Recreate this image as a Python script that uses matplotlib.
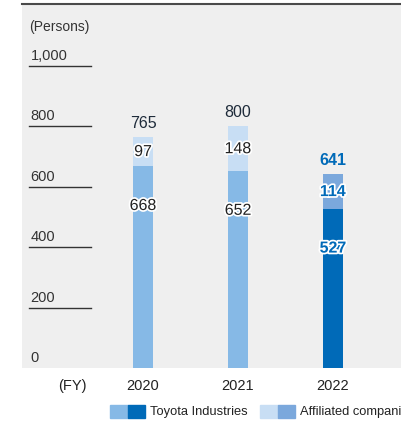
import matplotlib
matplotlib.use("Agg")
import matplotlib.pyplot as plt
import matplotlib.patheffects as pe
from matplotlib.patches import Rectangle

# --- data --------------------------------------------------------------
years = ["2020", "2021", "2022"]
toyota = [668, 652, 527]
affiliated = [97, 148, 114]
totals = [765, 800, 641]
yticks = [0, 200, 400, 600, 800, 1000]
ytick_labels = ["0", "200", "400", "600", "800", "1,000"]

toyota_colors = ["#86b9e6", "#86b9e6", "#006ab8"]
affil_colors = ["#c8def4", "#c8def4", "#7ba8dc"]
label_colors = ["#222222", "#222222", "#006ab8"]

plt.rcParams["font.family"] = ["Liberation Sans", "DejaVu Sans"]

fig = plt.figure(figsize=(4.01, 4.25), dpi=100)
ax = fig.add_axes([22 / 401, 57 / 425, 379 / 401, 364 / 425])
ax.set_facecolor("#efefef")
ax.set_xlim(-1.274, 2.716)
ax.set_ylim(0, 1205)

x = range(len(years))
w = 0.21
ax.bar(x, toyota, width=w, color=toyota_colors, zorder=2)
ax.bar(x, affiliated, width=w, bottom=toyota, color=affil_colors, zorder=2)

outline = [pe.withStroke(linewidth=2.5, foreground="white")]
for i in x:
    bold = "bold" if i == 2 else "normal"
    ax.text(i, toyota[i] - 130, str(toyota[i]), ha="center", va="center",
            fontsize=11.5, color=label_colors[i], fontweight=bold,
            path_effects=outline, zorder=3)
    ax.text(i, toyota[i] + affiliated[i] / 2, str(affiliated[i]), ha="center",
            va="center", fontsize=11.5, color=label_colors[i], fontweight=bold,
            path_effects=outline, zorder=3)
    ax.text(i, totals[i] + 45, str(totals[i]), ha="center", va="center",
            fontsize=11.5, color="#1e2b3a" if i < 2 else "#006ab8",
            fontweight=bold, zorder=3)

# y "ticks": labels sitting on short underlines
for v, lab in zip(yticks, ytick_labels):
    if v > 0:
        ax.plot([-1.2, -0.547], [v, v], color="#333333", lw=1.0, zorder=2)
    ax.text(-1.185, v + 10, lab, ha="left", va="bottom", fontsize=10.5,
            color="#333333")
ax.text(-1.195, 1128, "(Persons)", ha="left", va="center", fontsize=10,
        color="#333333")

# category labels below the panel
xt = ax.get_xaxis_transform()
for i, yr in enumerate(years):
    ax.text(i, -0.05, yr, transform=xt, ha="center", va="center",
            fontsize=10.5, color="#222222", clip_on=False)
ax.text(-0.74, -0.05, "(FY)", transform=xt, ha="center", va="center",
        fontsize=10.5, color="#222222", clip_on=False)

ax.set_xticks([])
ax.set_yticks([])
for s in ["left", "right", "bottom"]:
    ax.spines[s].set_visible(False)
ax.spines["top"].set_color("#4a4a4a")
ax.spines["top"].set_linewidth(1.5)

# legend: two-tone swatches
H = 425
def swatch(x0, c1, c2):
    for k, c in enumerate([c1, c2]):
        fig.patches.append(Rectangle(((x0 + 17.5 * k) / 401, (H - 418) / H),
                                     17.5 / 401, 13.5 / H, color=c,
                                     transform=fig.transFigure))

swatch(110, toyota_colors[0], toyota_colors[2])
fig.text(150 / 401, (H - 411.5) / H, "Toyota Industries", va="center",
         fontsize=9.3, color="#222222")
swatch(260, affil_colors[0], affil_colors[2])
fig.text(300 / 401, (H - 411.5) / H, "Affiliated companies", va="center",
         fontsize=9.3, color="#222222")

fig.savefig("out.png", dpi=100)
